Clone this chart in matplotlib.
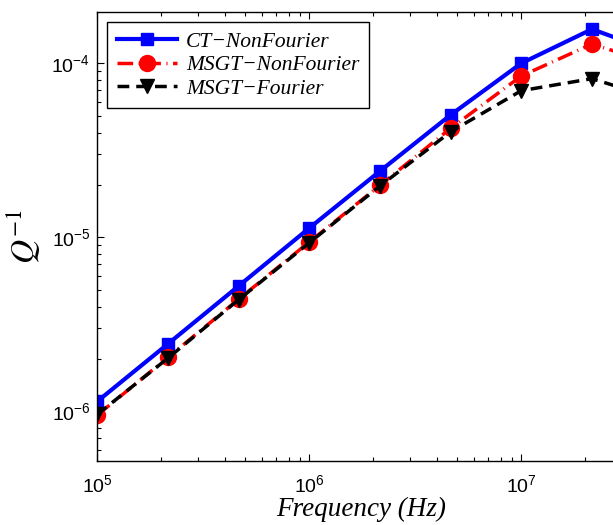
import matplotlib
matplotlib.use('Agg')
import matplotlib.pyplot as plt
import numpy as np

# frequencies (Hz) and inverse quality factors
freq = [1e5, 2.154e5, 4.642e5, 1e6, 2.154e6, 4.642e6, 1e7, 2.154e7, 4.642e7]
ct_nonfourier = [1.14e-6, 2.44e-6, 5.25e-6, 1.13e-5, 2.40e-5, 5.05e-5, 1.0e-4, 1.57e-4, 1.12e-4]
msgt_nonfourier = [9.5e-7, 2.04e-6, 4.41e-6, 9.4e-6, 1.99e-5, 4.23e-5, 8.45e-5, 1.29e-4, 9.6e-5]
msgt_fourier = [9.6e-7, 2.02e-6, 4.38e-6, 9.3e-6, 1.97e-5, 4.04e-5, 6.96e-5, 8.16e-5, 6.1e-5]

plt.rcParams['mathtext.fontset'] = 'custom'
plt.rcParams['mathtext.rm'] = 'Liberation Sans'
plt.rcParams['mathtext.it'] = 'Liberation Sans:italic'
plt.rcParams['font.family'] = 'Liberation Sans'

fig = plt.figure(figsize=(6.13, 5.25), dpi=100)
# axes run a little past the right edge of the figure
ax = fig.add_axes([97.3 / 613, 1 - 460.7 / 525, (625 - 97.3) / 613, (460.7 - 12.3) / 525])

ax.plot(freq, ct_nonfourier, color='blue', lw=3, marker='s', ms=8.5,
        label='CT\u2212NonFourier')
ax.plot(freq, msgt_nonfourier, color='red', lw=2.5, ls=(0, (4.5, 1.6, 0.3, 1.6)),
        marker='o', ms=11.5, label='MSGT\u2212NonFourier')
ax.plot(freq, msgt_fourier, color='black', lw=2.5, ls=(0, (3.4, 2.0)),
        marker='v', ms=10.5, label='MSGT\u2212Fourier')

ax.set_xscale('log')
ax.set_yscale('log')
ax.set_xlim(1e5, 10 ** (5 + (625 - 97.3) / 212))
ax.set_ylim(10 ** -6.284, 10 ** -3.707)

ax.tick_params(which='both', direction='in', top=True, right=True, width=0.8,
               labelsize=14)
ax.tick_params(which='major', length=5)
ax.tick_params(which='minor', length=3)
ax.tick_params(axis='x', pad=10)
ax.tick_params(axis='y', pad=5)
for s in ax.spines.values():
    s.set_linewidth(1.0)

ax.set_xlabel('Frequency (Hz)', family='Liberation Serif', style='italic',
              fontsize=19.5, labelpad=0)
ax.set_ylabel(r'$Q^{-1}$', fontsize=24, math_fontfamily='stix', labelpad=6)

leg = ax.legend(loc='upper left', bbox_to_anchor=(0.019, 0.978), borderaxespad=0,
                prop={'family': 'Liberation Serif', 'style': 'italic', 'size': 15.5},
                fancybox=False, framealpha=1, edgecolor='black',
                handlelength=2.8, labelspacing=0.15, borderpad=0.45,
                handletextpad=0.4)
leg.get_frame().set_linewidth(1.0)

fig.savefig('out.png', dpi=100)
